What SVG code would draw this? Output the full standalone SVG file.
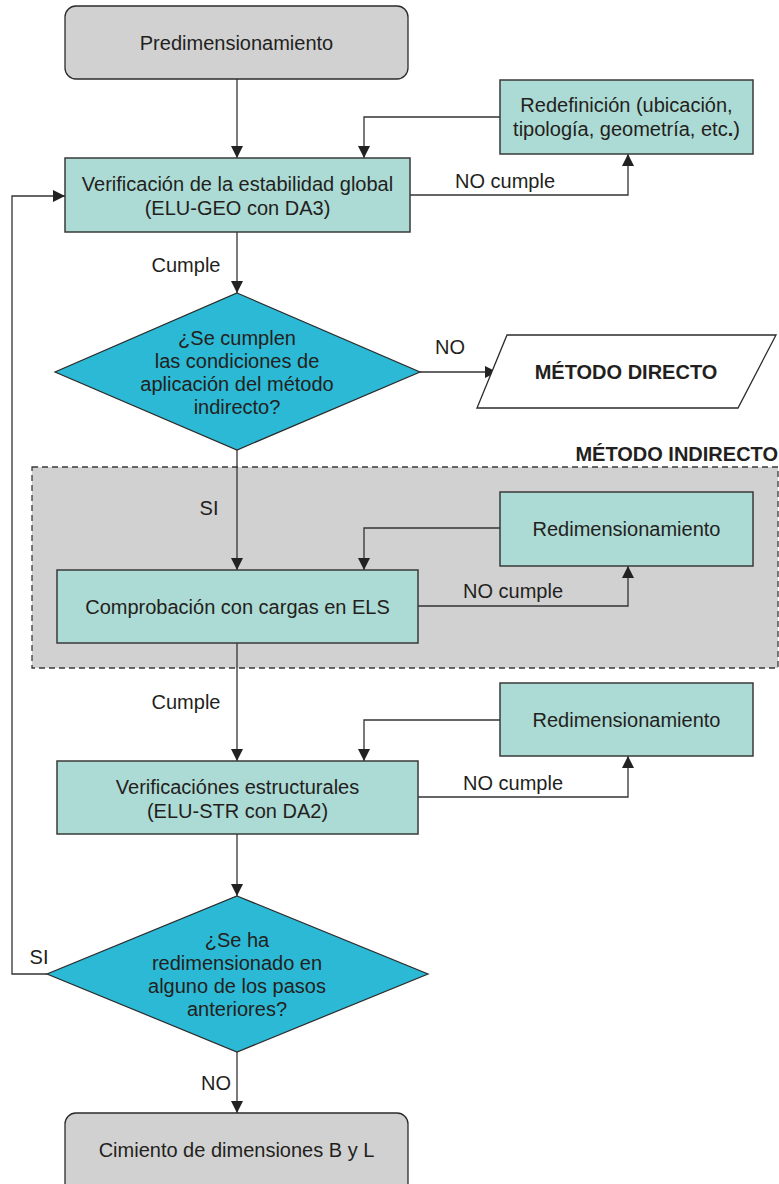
<svg xmlns="http://www.w3.org/2000/svg" width="779" height="1184" viewBox="0 0 779 1184">
<defs>
<style>
.t{font-family:"Liberation Sans",Arial,sans-serif;font-size:20px;fill:#231f20;text-anchor:middle}
.b{font-weight:bold}
.term{fill:#d1d1d1;stroke:#2b2b2b;stroke-width:1.3}
.proc{fill:#acdad4;stroke:#3a3a3a;stroke-width:1.5}
.dec{fill:#2bb9d5;stroke:#2b2b2b;stroke-width:1.2}
.io{fill:#fff;stroke:#2b2b2b;stroke-width:1.3}
.grp{fill:#d1d1d1;stroke:#3a3a3a;stroke-width:1.3;stroke-dasharray:6 4}
.c{fill:none;stroke:#333;stroke-width:1.3}
.c2{fill:none;stroke:#333;stroke-width:1.3;marker-end:url(#ah)}
</style>
<marker id="ah" viewBox="0 0 12 12" refX="12" refY="6" markerWidth="12" markerHeight="12" markerUnits="userSpaceOnUse" orient="auto">
<path d="M0,0 L12,6 L0,12 z" fill="#222"/>
</marker>
</defs>
<g id="indirecto-group">
<rect class="grp" x="32" y="467" width="746" height="201"/>
<text class="t b" x="778" y="461" style="text-anchor:end">MÉTODO INDIRECTO</text>
</g>
<g id="connectors">
<path class="c2" d="M237,79 V158"/>
<path class="c2" d="M410,195 H628 V154"/>
<path class="c2" d="M500,117 H364 V158"/>
<path class="c2" d="M237,232 V293"/>
<path class="c2" d="M420,372 H497"/>
<path class="c2" d="M237,450 V570"/>
<path class="c2" d="M418,606 H628 V566"/>
<path class="c2" d="M500,528 H364 V570"/>
<path class="c2" d="M237,643 V761"/>
<path class="c2" d="M418,797 H628 V756"/>
<path class="c2" d="M500,720 H364 V761"/>
<path class="c2" d="M237,834 V896"/>
<path class="c2" d="M237,1052 V1113"/>
<path class="c2" d="M47,974 H12 V196 H65"/>
<text class="t" x="505" y="188">NO cumple</text>
<text class="t" x="186" y="272">Cumple</text>
<text class="t" x="450" y="354">NO</text>
<text class="t" x="209" y="515">SI</text>
<text class="t" x="513" y="598">NO cumple</text>
<text class="t" x="186" y="709">Cumple</text>
<text class="t" x="513" y="790">NO cumple</text>
<text class="t" x="39" y="964">SI</text>
<text class="t" x="216" y="1090">NO</text>
</g>
<g id="predimensionamiento">
<rect class="term" x="65" y="6" width="343" height="73" rx="11"/>
<text class="t" x="236.5" y="50">Predimensionamiento</text>
</g>
<g id="redefinicion">
<rect class="proc" x="500" y="80" width="253" height="74"/>
<text class="t" x="626.5" y="112">Redefinición (ubicación,</text>
<text class="t" x="626.5" y="136">tipología, geometría, etc<tspan font-weight="bold">.</tspan>)</text>
</g>
<g id="verificacion-global">
<rect class="proc" x="65" y="158" width="345" height="74"/>
<text class="t" x="237.5" y="191">Verificación de la estabilidad global</text>
<text class="t" x="237.5" y="215">(ELU-GEO con DA3)</text>
</g>
<g id="decision-condiciones">
<polygon class="dec" points="237,293 420,372 237,450 55,372"/>
<text class="t" x="237" y="345">¿Se cumplen</text>
<text class="t" x="237" y="368">las condiciones de</text>
<text class="t" x="237" y="391">aplicación del método</text>
<text class="t" x="237" y="414">indirecto?</text>
</g>
<g id="metodo-directo">
<polygon class="io" points="507,335 776,335 738,408 477,408"/>
<text class="t b" x="626" y="379">MÉTODO DIRECTO</text>
</g>
<g id="redimensionamiento-1">
<rect class="proc" x="500" y="492" width="253" height="74"/>
<text class="t" x="626.5" y="536">Redimensionamiento</text>
</g>
<g id="comprobacion-els">
<rect class="proc" x="57" y="570" width="361" height="73"/>
<text class="t" x="237.5" y="614">Comprobación con cargas en ELS</text>
</g>
<g id="redimensionamiento-2">
<rect class="proc" x="500" y="683" width="253" height="73"/>
<text class="t" x="626.5" y="727">Redimensionamiento</text>
</g>
<g id="verificaciones-estructurales">
<rect class="proc" x="57" y="761" width="361" height="73"/>
<text class="t" x="237.5" y="794">Verificaciónes estructurales</text>
<text class="t" x="237.5" y="818">(ELU-STR con DA2)</text>
</g>
<g id="decision-redimensionado">
<polygon class="dec" points="237,896 428,974 237,1052 47,974"/>
<text class="t" x="237" y="947">¿Se ha</text>
<text class="t" x="237" y="970">redimensionado en</text>
<text class="t" x="237" y="993">alguno de los pasos</text>
<text class="t" x="237" y="1016">anteriores?</text>
</g>
<g id="cimiento">
<rect class="term" x="65" y="1113" width="343" height="85" rx="11"/>
<text class="t" x="236.5" y="1157">Cimiento de dimensiones B y L</text>
</g>
</svg>
